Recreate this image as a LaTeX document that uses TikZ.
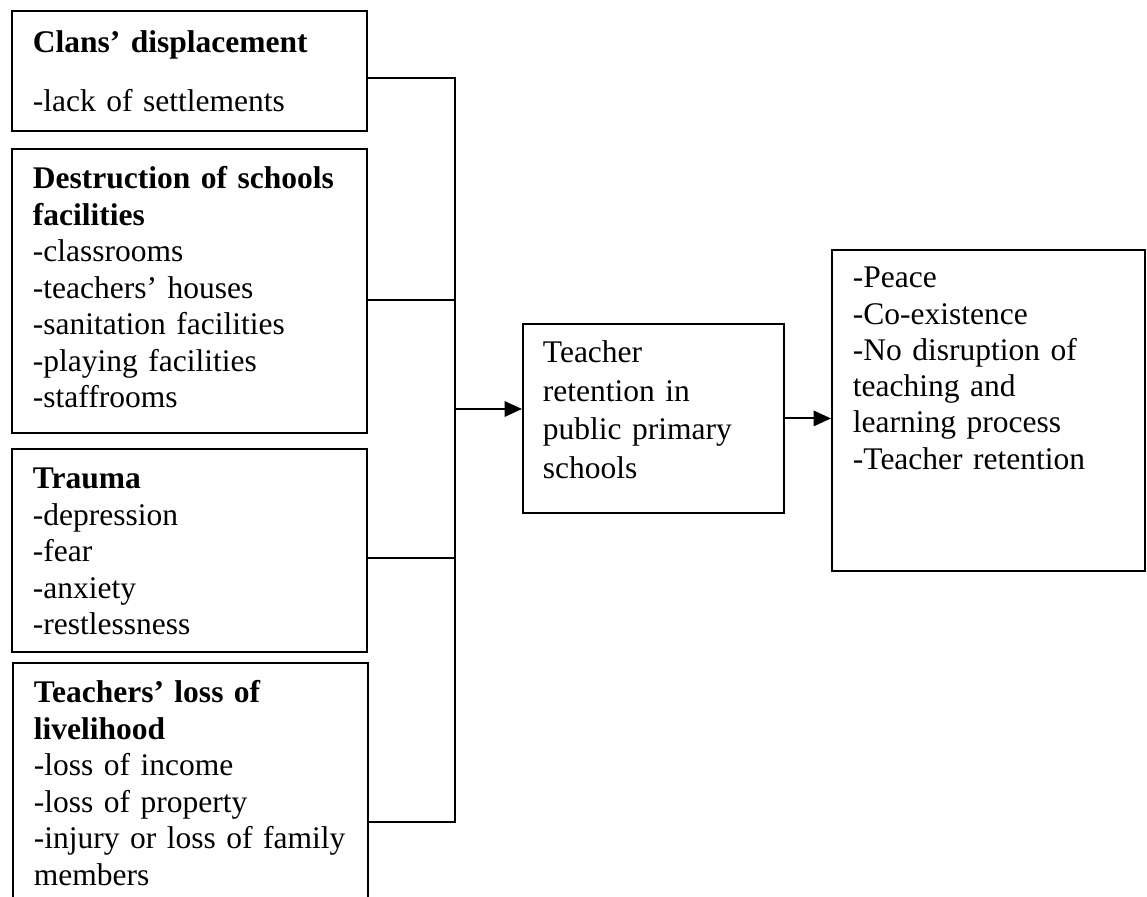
\documentclass[tikz,border=0pt]{standalone}
\usepackage{fontspec}
\setmainfont{Liberation Serif}
\usetikzlibrary{arrows.meta}

\begin{document}
\begin{tikzpicture}[
  x=0.4pt,
  y=-0.4pt,
  cause/.style={draw=black,line width=0.75pt,anchor=north west,align=left,
    text width=125.2pt,inner xsep=8.4pt,inner ysep=0pt,text height=16pt,
    font=\fontsize{12.6pt}{14.6pt}\selectfont},
  result/.style={cause,text width=108.4pt},
  link/.style={draw=black,line width=0.8pt},
  arr/.style={link,-{Triangle[length=7pt,width=6.2pt]}}
]
\clip (0,0) rectangle (1147,897);

\node[cause,text height=16.8pt,text depth=31.2pt] (clans) at (11,10)
  {\textbf{Clans’ displacement}\\[8.8pt]-lack of settlements};
\node[cause,text depth=97.6pt] (ruin) at (11,148)
  {\textbf{Destruction of schools}\\\textbf{facilities}\\-classrooms\\-teachers’ houses\\
   -sanitation facilities\\-playing facilities\\-staffrooms};
\node[cause,text depth=65.2pt] (trauma) at (11,448)
  {\textbf{Trauma}\\-depression\\-fear\\-anxiety\\-restlessness};
\node[cause,text depth=91.2pt] (livelihood) at (12,662)
  {\textbf{Teachers’ loss of}\\\textbf{livelihood}\\-loss of income\\-loss of property\\
   -injury or loss of family\\members};

\node[result,text width=88.4pt,inner xsep=8pt,text height=15.6pt,text depth=60pt,
  font=\fontsize{12.6pt}{15.4pt}\selectfont] (retain) at (522,323)
  {Teacher\\retention in\\public primary\\schools};
\node[result,text height=15.2pt,text depth=113.2pt,
  font=\fontsize{12.6pt}{14.5pt}\selectfont] (outcome) at (831,249)
  {-Peace\\-Co-existence\\-No disruption of\\teaching and\\learning process\\-Teacher retention};

\coordinate (j1) at (455,78);
\coordinate (j2) at (455,300);
\coordinate (j3) at (455,558);
\coordinate (j4) at (455,822);
\coordinate (j0) at (455,409);

\draw[link] (clans.east |- j1) -- (j1) -- (j4) -- (livelihood.east |- j4);
\foreach \b/\j in {ruin/j2,trauma/j3}
  \draw[link] (\b.east |- \j) -- (\j);
\draw[arr] (j0) -- (j0 -| retain.west);
\draw[arr] (retain.east) -- (retain.east -| outcome.west);
\end{tikzpicture}
\end{document}
